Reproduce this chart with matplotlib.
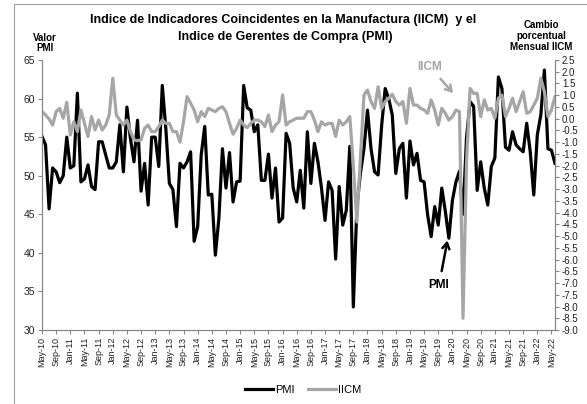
import numpy as np
import matplotlib
matplotlib.use("Agg")
import matplotlib.pyplot as plt
from matplotlib.lines import Line2D

plt.rcParams['font.family'] = ['Liberation Sans', 'DejaVu Sans']

# Serie mensual May-10 .. Jun-22
pmi = [55.1, 54.0, 45.7, 51.0, 50.5, 49.1, 50.0, 55.0, 51.0, 51.3,
       60.7, 49.2, 49.6, 51.4, 48.6, 48.2, 54.4, 54.4, 52.7, 51.0,
       51.0, 51.8, 56.6, 50.5, 58.9, 54.8, 51.8, 57.2, 48.0, 51.6,
       46.2, 55.0, 55.0, 51.2, 61.7, 56.1, 49.0, 48.2, 43.4, 51.6,
       51.0, 51.8, 53.1, 41.5, 43.4, 52.7, 56.4, 47.5, 47.6, 39.7,
       44.5, 53.5, 48.4, 53.0, 46.6, 49.2, 49.3, 61.7, 58.8, 58.5,
       55.7, 56.6, 49.4, 49.4, 52.8, 47.1, 51.0, 44.0, 44.5, 55.5,
       54.2, 48.4, 46.6, 50.7, 45.8, 55.7, 49.0, 54.2, 51.8, 48.4,
       44.2, 49.2, 48.1, 39.2, 48.6, 43.6, 45.5, 53.8, 33.0, 46.0,
       50.3, 53.5, 58.5, 53.5, 50.5, 50.1, 56.5, 61.3, 60.0, 57.9,
       50.3, 53.5, 54.2, 47.1, 54.5, 51.4, 52.9, 49.4, 49.2, 44.9,
       42.1, 46.0, 43.6, 48.4, 45.4, 41.9, 46.8, 49.2, 50.6, 45.0,
       55.0, 59.6, 59.0, 48.1, 51.8, 48.4, 46.2, 51.2, 52.3, 62.8,
       61.3, 53.7, 53.3, 55.7, 54.0, 53.5, 53.1, 56.8, 53.1, 47.5,
       55.3, 57.9, 63.7, 53.5, 53.3, 51.6]

iicm = [0.30, 0.16, -0.01, -0.27, 0.30, 0.44, 0.02, 0.70, -0.69, -0.13,
        -0.55, 0.37, -0.20, -0.76, 0.09, -0.48, -0.06, -0.48, -0.27, 0.16,
        1.72, 0.16, -0.06, -0.27, -0.06, -0.55, -0.90, -0.94, -0.90, -0.41,
        -0.27, -0.55, -0.55, -0.34, -0.06, -0.20, -0.20, -0.55, -0.55, -1.00,
        -0.13, 0.94, 0.66, 0.37, -0.13, 0.30, 0.09, 0.44, 0.37, 0.30,
        0.44, 0.51, 0.30, -0.20, -0.66, -0.41, -0.06, -0.27, -0.38, -0.20,
        -0.06, -0.06, -0.13, -0.34, 0.16, -0.55, -0.27, -0.13, 1.01, -0.27,
        -0.13, -0.06, 0.02, 0.02, 0.02, 0.30, 0.30, -0.06, -0.55, -0.13,
        -0.27, -0.20, -0.20, -0.76, -0.06, -0.27, -0.13, 0.09, -2.00, -4.40,
        -1.70, 1.01, 1.22, 0.73, 0.44, 1.36, 0.44, 0.73, 0.87, 1.04,
        0.73, 0.58, 0.73, -0.20, 1.29, 0.58, 0.58, 0.44, 0.37, 0.23,
        0.80, 0.37, -0.27, 0.44, 0.23, -0.06, 0.09, 0.37, 0.30, -8.50,
        -1.80, 1.29, 1.08, 1.08, 0.09, 0.80, 0.37, 0.44, 0.02, 0.87,
        1.01, 0.09, 0.44, 0.87, 0.30, 0.73, 1.15, 0.23, 0.30, 0.58,
        0.87, 1.72, 1.15, 0.09, 0.37, 0.94]

meses_en = ['Jan', 'Feb', 'Mar', 'Apr', 'May', 'Jun', 'Jul', 'Aug', 'Sep', 'Oct', 'Nov', 'Dec']
fechas = []
for k in range(len(pmi)):
    m = (4 + k) % 12
    a = 10 + (4 + k) // 12
    fechas.append(f"{meses_en[m]}-{a:02d}")

gris = '#a6a6a6'
eje = '#868686'

fig = plt.figure(figsize=(5.87, 4.04), dpi=100)
ax = fig.add_axes([42/587, 1-330/404, 513/587, 270/404])
ax2 = ax.twinx()

x = np.arange(len(pmi))
ax.plot(x, pmi, color='black', lw=2.3)
ax2.plot(x, iicm, color=gris, lw=2.3)

ax.set_xlim(0, len(pmi) - 1)
ax.set_ylim(30, 65)
ax.set_yticks(np.arange(30, 66, 5))
ax2.set_ylim(-9.0, 2.5)
ax2.set_yticks(np.arange(-9.0, 2.51, 0.5))
ax2.set_yticklabels([f"{v:.1f}" for v in np.arange(-9.0, 2.51, 0.5)])

ticks = x[::4]
ax.set_xticks(ticks)
ax.set_xticklabels([fechas[t] for t in ticks], rotation=90, fontsize=6.5)

for a in (ax, ax2):
    a.spines['top'].set_visible(False)
    for s in ('left', 'right', 'bottom'):
        a.spines[s].set_color(eje)
        a.spines[s].set_linewidth(0.8)
    a.tick_params(direction='out', length=3, color=eje, width=0.8,
                  labelcolor='#222222', pad=2)
ax.tick_params(axis='y', labelsize=7.5)
ax2.tick_params(axis='y', labelsize=7)
ax.tick_params(axis='x', labelsize=6.5)

# titulos
fig.text(283/587, 1-20/404, 'Indice de Indicadores Coincidentes en la Manufactura (IICM)  y el',
         ha='center', va='center', fontsize=9, fontweight='bold')
fig.text(285/587, 1-37/404, 'Indice de Gerentes de Compra (PMI)',
         ha='center', va='center', fontsize=9, fontweight='bold')
fig.text(45/587, 1-43/404, 'Valor\nPMI', ha='center', va='center', fontsize=7,
         fontweight='bold', linespacing=1.0)
fig.text(541/587, 1-36/404, 'Cambio\nporcentual\nMensual IICM', ha='center', va='center',
         fontsize=7, fontweight='bold', linespacing=1.15)

# anotaciones
flecha = '->, head_length=0.5, head_width=0.3'
ax.annotate('IICM', xy=(116.2, 60.7), xytext=(109.7, 64.1), ha='center', va='center',
            fontsize=8.5, fontweight='bold', color=gris,
            arrowprops=dict(arrowstyle=flecha, color=gris, lw=1.8,
                            shrinkA=3, shrinkB=0))
ax.annotate('PMI', xy=(114.6, 41.6), xytext=(112.2, 35.8), ha='center', va='center',
            fontsize=8.5, fontweight='bold', color='black',
            arrowprops=dict(arrowstyle=flecha, color='black', lw=1.8,
                            shrinkA=4, shrinkB=0))

# leyenda
handles = [Line2D([], [], color='black', lw=2.3), Line2D([], [], color=gris, lw=2.3)]
fig.legend(handles, ['PMI', 'IICM'], loc='center', bbox_to_anchor=(303/587, 1-390/404),
           ncol=2, frameon=False, fontsize=8, handlelength=2.5, columnspacing=1.2,
           handletextpad=0.2)

# marco del grafico
fig.add_artist(Line2D([14/587, 14/587], [0, 1-4/404], color='#a0a0a0', lw=0.8))
fig.add_artist(Line2D([14/587, 1], [1-4/404, 1-4/404], color='#a0a0a0', lw=0.8))

fig.savefig('out.png', dpi=100)
